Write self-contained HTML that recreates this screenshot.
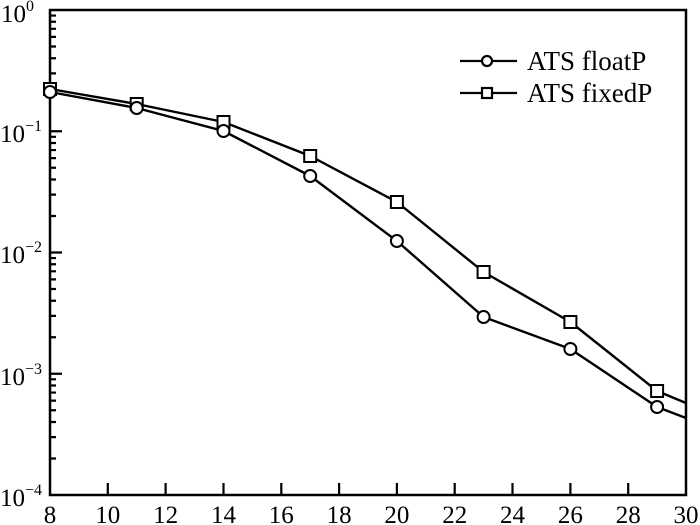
<!DOCTYPE html>
<html><head><style>body{margin:0;background:#fff}svg{display:block}text{font-family:"Liberation Serif",serif;fill:#000}</style></head><body>
<svg width="700" height="525" viewBox="0 0 700 525" xmlns="http://www.w3.org/2000/svg">
<rect x="50" y="10" width="636" height="485" stroke="#000" stroke-width="2.5" fill="none"/>
<path stroke="#000" stroke-width="2.2" fill="none" d="
M107.8,495V483 M165.6,495V483 M223.5,495V483 M281.3,495V483 M339.1,495V483 M396.9,495V483 M454.7,495V483 M512.5,495V483 M570.4,495V483 M628.2,495V483
M50,131.25H62 M50,252.5H62 M50,373.75H62
M50,94.75H56 M50,73.4H56 M50,58.25H56 M50,46.5H56 M50,36.9H56 M50,28.8H56 M50,21.75H56 M50,15.55H56
M50,216H56 M50,194.65H56 M50,179.5H56 M50,167.75H56 M50,158.15H56 M50,150.05H56 M50,143H56 M50,136.8H56
M50,337.25H56 M50,315.9H56 M50,300.75H56 M50,289H56 M50,279.4H56 M50,271.3H56 M50,264.25H56 M50,258.05H56
M50,458.5H56 M50,437.15H56 M50,422H56 M50,410.25H56 M50,400.65H56 M50,392.55H56 M50,385.5H56 M50,379.3H56"/>
<g font-size="25" text-anchor="middle">
<text x="50" y="523">8</text><text x="107.8" y="523">10</text><text x="165.6" y="523">12</text><text x="223.5" y="523">14</text><text x="281.3" y="523">16</text><text x="339.1" y="523">18</text><text x="396.9" y="523">20</text><text x="454.7" y="523">22</text><text x="512.5" y="523">24</text><text x="570.4" y="523">26</text><text x="628.2" y="523">28</text><text x="686" y="523">30</text>
</g>
<g font-size="25">
<text x="1" y="22">10<tspan dy="-11" font-size="16">0</tspan></text>
<text x="0" y="142">10<tspan dy="-11" font-size="16">−1</tspan></text>
<text x="0" y="263">10<tspan dy="-11" font-size="16">−2</tspan></text>
<text x="0" y="385">10<tspan dy="-11" font-size="16">−3</tspan></text>
<text x="0" y="506">10<tspan dy="-11" font-size="16">−4</tspan></text>
</g>
<g stroke="#000" stroke-width="2.4" fill="none" stroke-linejoin="round">
<polyline points="50,92 136.7,108 223.5,131 310.2,176 396.9,241 483.6,317 570.4,349 657.1,407 686,418"/>
<polyline points="50,89 136.7,104 223.5,122 310.2,156 396.9,202 483.6,272 570.4,322 657.1,391 686,403"/>
</g>
<g stroke="#000" stroke-width="2" fill="#fff">
<rect x="44" y="83" width="12" height="12"/><rect x="130.7" y="98" width="12" height="12"/><rect x="217.5" y="116" width="12" height="12"/><rect x="304.2" y="150" width="12" height="12"/><rect x="390.9" y="196" width="12" height="12"/><rect x="477.6" y="266" width="12" height="12"/><rect x="564.4" y="316" width="12" height="12"/><rect x="651.1" y="385" width="12" height="12"/>
<circle cx="50" cy="92" r="6"/><circle cx="136.7" cy="108" r="6"/><circle cx="223.5" cy="131" r="6"/><circle cx="310.2" cy="176" r="6"/><circle cx="396.9" cy="241" r="6"/><circle cx="483.6" cy="317" r="6"/><circle cx="570.4" cy="349" r="6"/><circle cx="657.1" cy="407" r="6"/>
</g>
<g stroke="#000" stroke-width="2.2" fill="#fff">
<line x1="460" y1="61" x2="517" y2="61"/><circle cx="487" cy="61" r="5"/>
<line x1="460" y1="93" x2="517" y2="93"/><rect x="482" y="88" width="10" height="10"/>
</g>
<text x="527" y="70" font-size="27">ATS floatP</text>
<text x="527" y="102" font-size="27">ATS fixedP</text>
</svg>
</body></html>
